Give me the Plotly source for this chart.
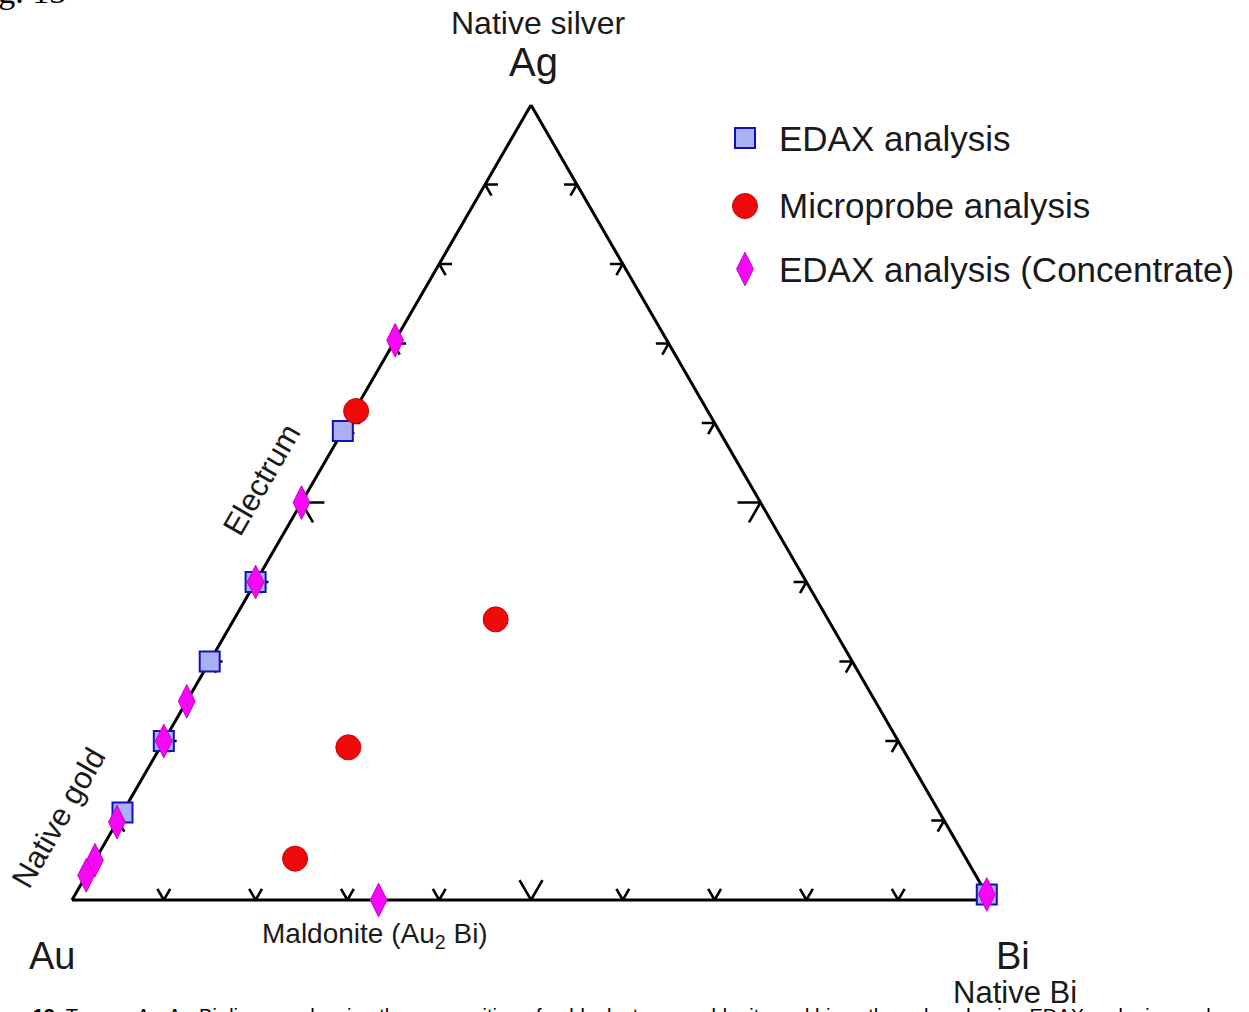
import plotly.graph_objects as go

# Compositions (at.% Ag, Au, Bi)
edax_ag = [59.0, 40.0, 30.0, 20.0, 11.0, 0.7]
edax_au = [41.0, 60.0, 70.0, 80.0, 89.0, 0.0]
edax_bi = [0.0, 0.0, 0.0, 0.0, 0.0, 99.3]

micro_ag = [61.5, 35.3, 19.2, 5.2]
micro_au = [38.3, 36.2, 60.3, 73.1]
micro_bi = [0.2, 28.5, 20.5, 21.7]

conc_ag = [70.4, 50.0, 40.0, 25.0, 20.0, 9.8, 5.0, 3.1, 0.0, 0.7]
conc_au = [29.6, 50.0, 60.0, 75.0, 80.0, 90.2, 95.0, 96.9, 66.6, 0.0]
conc_bi = [0.0, 0.0, 0.0, 0.0, 0.0, 0.0, 0.0, 0.0, 33.4, 99.3]

series_names = ["EDAX analysis", "Microprobe analysis", "EDAX analysis (Concentrate)"]

tick_values = [10, 20, 30, 40, 50, 60, 70, 80, 90]
major_tick = 50

W, H = 1249, 1012
FONT = "Liberation Sans, Arial, sans-serif"
TEXT = "#1a1a1a"

MARKERS = [
    dict(symbol="square", size=20, color="#aab1f2", line=dict(color="#1212b4", width=2)),
    dict(symbol="circle", size=25, color="#ee0a0a", line=dict(color="#d00000", width=1)),
    dict(symbol="diamond-tall", size=24, color="#f608f6", line=dict(color="#c800c8", width=1)),
]


def px(x, y):
    return x / W, 1 - y / H


fig = go.Figure()

# Arrow-like tick marks: two short strokes on each edge, pointing inward
ta, tb, tc = [], [], []


def add_tick(pts):
    for pa, pb, pc in pts:
        ta.append(pa); tb.append(pb); tc.append(pc)
    ta.append(None); tb.append(None); tc.append(None)


for t in tick_values:
    L = 2.5 if t == major_tick else 1.4
    add_tick([(t, 100 - t - L, L), (t, 100 - t, 0), (t - L, 100 - t, L)])      # left edge
    add_tick([(t, L, 100 - t - L), (t, 0, 100 - t), (t - L, L, 100 - t)])      # right edge
    add_tick([(L, 100 - t, t - L), (0, 100 - t, t), (L, 100 - t - L, t)])      # bottom edge

fig.add_trace(go.Scatterternary(
    a=ta, b=tb, c=tc, mode="lines",
    line=dict(color="black", width=2.6),
    hoverinfo="skip", showlegend=False, cliponaxis=False,
))

for name, a, b, c, mk in zip(series_names,
                             [edax_ag, micro_ag, conc_ag],
                             [edax_au, micro_au, conc_au],
                             [edax_bi, micro_bi, conc_bi],
                             MARKERS):
    fig.add_trace(go.Scatterternary(
        a=a, b=b, c=c, mode="markers", name=name, marker=mk,
        cliponaxis=False, showlegend=False,
    ))

# Legend: swatches on an invisible pixel-scaled overlay, labels beside them
legend_rows = [138, 206, 269]
for name, mk, row in zip(series_names, MARKERS, legend_rows):
    fig.add_trace(go.Scatter(
        x=[745], y=[row], mode="markers", marker=mk, name=name,
        showlegend=False, hoverinfo="skip", cliponaxis=False,
        xaxis="x", yaxis="y",
    ))
    lx, ly = px(777, row)
    fig.add_annotation(
        x=lx, y=ly, xref="paper", yref="paper", text=name, showarrow=False,
        xanchor="left", yanchor="middle",
        font=dict(family=FONT, size=35, color=TEXT),
    )

axis_style = dict(
    showgrid=False, showticklabels=False, ticks="",
    linecolor="black", linewidth=3, layer="below traces", title=dict(text=""),
)

x0, y0 = px(72, 900)
x1, y1 = px(990, 105)

fig.update_layout(
    width=W, height=H,
    margin=dict(l=0, r=0, t=0, b=0),
    paper_bgcolor="white",
    plot_bgcolor="rgba(0,0,0,0)",
    font=dict(family=FONT, color=TEXT),
    ternary=dict(
        sum=100,
        domain=dict(x=[x0, x1], y=[y0, y1]),
        bgcolor="white",
        aaxis=axis_style, baxis=axis_style, caxis=axis_style,
    ),
    xaxis=dict(domain=[0, 1], range=[0, W], visible=False, fixedrange=True),
    yaxis=dict(domain=[0, 1], range=[H, 0], visible=False, fixedrange=True),
    showlegend=False,
)

labels = [
    ("Native silver", 538, 23, 32, 0),
    ("Ag", 533, 62, 40, 0),
    ("Au", 52, 956, 38, 0),
    ("Bi", 1013, 956, 38, 0),
    ("Native Bi", 1015, 992, 31, 0),
    ("Maldonite (Au<sub>2</sub> Bi)", 375, 935, 28, 0),
    ("Electrum", 262, 480, 31, -60),
    ("Native gold", 58, 818, 31, -60),
]
for text, x, y, size, ang in labels:
    ax, ay = px(x, y)
    fig.add_annotation(
        x=ax, y=ay, xref="paper", yref="paper", text=text, showarrow=False,
        xanchor="center", yanchor="middle", textangle=ang,
        font=dict(family=FONT, size=size, color=TEXT),
    )

# Figure number and caption at the page edges
fx, fy = px(68, 12)
fig.add_annotation(
    x=fx, y=fy, xref="paper", yref="paper", text="Fig. 13", showarrow=False,
    xanchor="right", yanchor="bottom",
    font=dict(family="Liberation Serif, Times New Roman, serif", size=34, color="black"),
)
cx, cy = px(-36, 1016)
fig.add_annotation(
    x=cx, y=cy, xref="paper", yref="paper",
    text="<b>Figure 13.</b> Ternary Au-Ag-Bi diagram showing the composition of gold, electrum, "
         "maldonite and bismuth analyzed using EDAX and microprobe",
    showarrow=False, xanchor="left", yanchor="middle",
    font=dict(family=FONT, size=20, color="black"),
)

fig.write_html("out.html")
